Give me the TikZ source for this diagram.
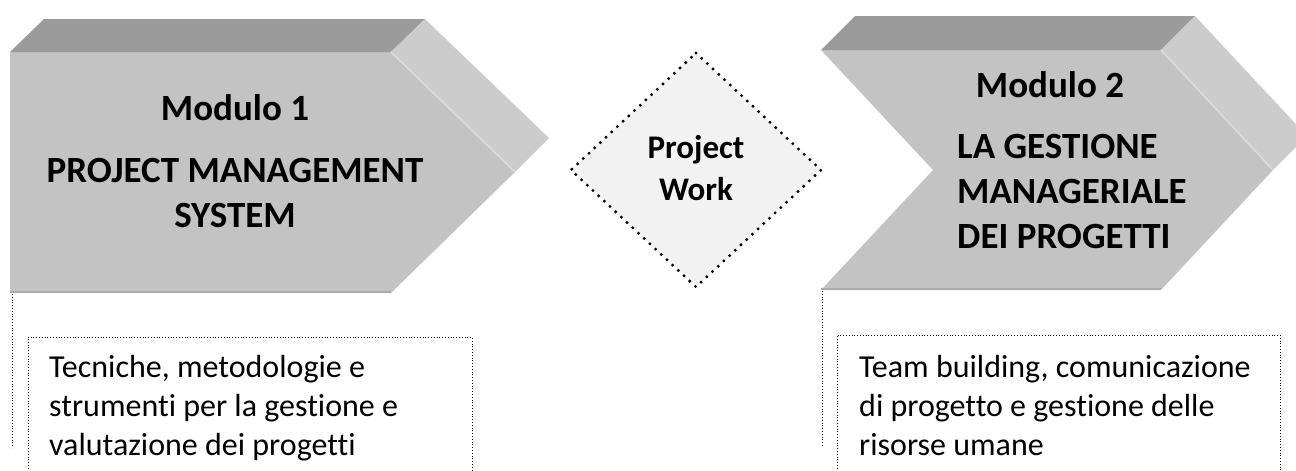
\documentclass[tikz,border=0pt]{standalone}
\usepackage{fontspec}
\setmainfont{Carlito}[Ligatures=NoCommon]
\begin{document}
\begin{tikzpicture}[x=1pt,y=-1pt,
  frontface/.style={fill=frontgray},
  topface/.style={fill=topgray},
  sideface/.style={fill=sidegray},
  edgeline/.style={draw=edgegray,line width=1.6pt},
  bottomline/.style={draw=bottomgray,line width=2pt},
  bigdots/.style={draw=black,line width=3.3pt,line cap=round,dash pattern=on 0pt off 7.8pt},
  finedots/.style={draw=black,line width=1pt,dash pattern=on 1pt off 1.8pt},
  titletext/.style={inner sep=0pt,font=\bfseries\fontsize{37}{45}\selectfont},
  pwtext/.style={inner sep=0pt,align=center,font=\bfseries\fontsize{33}{42}\selectfont},
  bodytext/.style={inner sep=0pt,align=left,anchor=base west,font=\fontsize{32}{39}\selectfont}
]
\definecolor{frontgray}{HTML}{C3C3C3}
\definecolor{topgray}{HTML}{9B9B9B}
\definecolor{sidegray}{HTML}{CCCCCC}
\definecolor{edgegray}{HTML}{DCDCDC}
\definecolor{bottomgray}{HTML}{ABABAB}
\definecolor{diamondfill}{HTML}{F2F2F2}
\useasboundingbox (0,0) rectangle (1296,471);
\clip (0,0) rectangle (1296,471);

% ---- Modulo 1 arrow (pentagon with depth)
\path[frontface] (10,52) -- (391,52) -- (515,172) -- (391,293) -- (10,293) -- cycle;
\path[topface] (10,52) -- (44,19) -- (425,19) -- (391,52) -- cycle;
\path[sideface] (391,52) -- (425,19) -- (549,138) -- (515,172) -- cycle;
\draw[edgeline] (391,52) -- (515,172);
\draw[bottomline] (10,292) -- (391,292);

% ---- Modulo 2 arrow (chevron with depth)
\path[frontface] (821,50) -- (1161,50) -- (1273,170) -- (1161,290) -- (821,290) -- (933,170) -- cycle;
\path[topface] (821,50) -- (855,16) -- (1195,16) -- (1161,50) -- cycle;
\path[sideface] (1161,50) -- (1195,16) -- (1307,136) -- (1273,170) -- cycle;
\draw[edgeline] (1161,50) -- (1273,170);
\draw[bottomline] (821,289) -- (1161,289);

% ---- Project Work diamond
\coordinate (dt) at (696,53);
\coordinate (dr) at (821,170);
\coordinate (db) at (696,287);
\coordinate (dl) at (571,170);
\path[fill=diamondfill] (dt) -- (dr) -- (db) -- (dl) -- cycle;
\draw[bigdots] (dt) -- (dr) -- (db) -- (dl) -- cycle;
\node[pwtext,anchor=base] (pw) at (696,200) {Project\\Work};

% ---- titles
\node[titletext,anchor=base] (m1) at (235,120) {Modulo 1};
\node[titletext,anchor=base,align=center] (t1) at (235,227) {PROJECT MANAGEMENT\\SYSTEM};
\node[titletext,anchor=base] (m2) at (1050,97) {Modulo 2};
\node[titletext,anchor=base west,align=left] (t2) at (957,248) {LA GESTIONE\\MANAGERIALE\\DEI PROGETTI};

% ---- dotted leader lines
\coordinate (a1) at (12,294);
\coordinate (a2) at (12,448);
\draw[finedots] (a1) -- (a2);
\coordinate (b1) at (822,291);
\coordinate (b2) at (822,447);
\draw[finedots] (b1) -- (b2);

% ---- description boxes (open at the bottom)
\coordinate (l1) at (28,480);
\coordinate (l2) at (28,337);
\coordinate (l3) at (472,337);
\coordinate (l4) at (472,480);
\draw[finedots] (l1) -- (l2) -- (l3) -- (l4);
\node[bodytext] (d1) at (49,455) {Tecniche, metodologie e\\strumenti per la gestione e\\valutazione dei progetti};

\coordinate (r1) at (837,480);
\coordinate (r2) at (837,335);
\coordinate (r3) at (1280,335);
\coordinate (r4) at (1280,480);
\draw[finedots] (r1) -- (r2) -- (r3) -- (r4);
\node[bodytext] (d2) at (859,455) {Team building, comunicazione\\di progetto e gestione delle\\risorse umane};
\end{tikzpicture}
\end{document}
